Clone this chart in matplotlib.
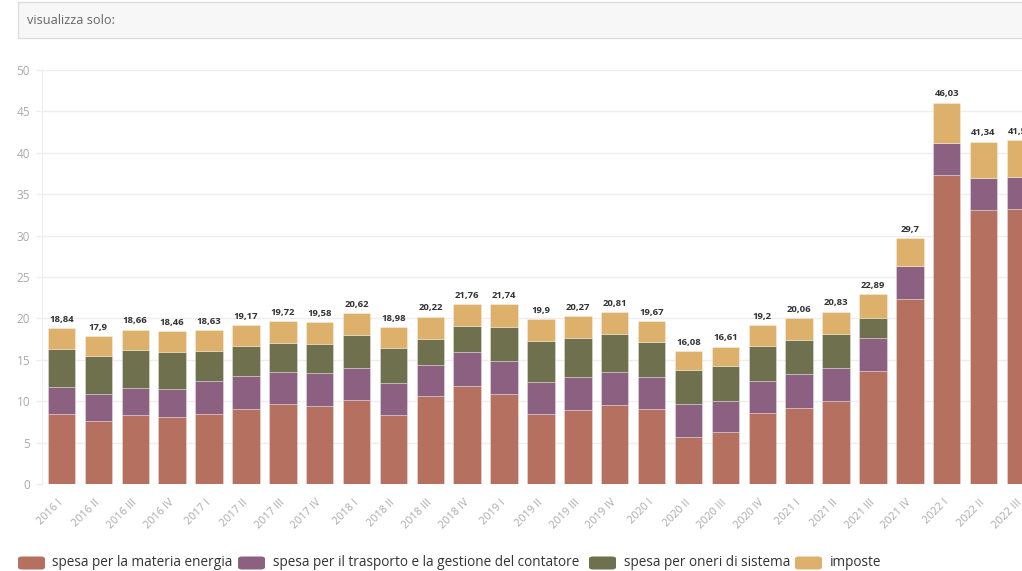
import matplotlib
matplotlib.use("Agg")
import matplotlib.pyplot as plt
from matplotlib.patches import FancyBboxPatch
import numpy as np

plt.rcParams['font.family'] = ['Open Sans', 'DejaVu Sans']

# data (c€/kWh, per trimestre)
trimestri = ['2016 I', '2016 II', '2016 III', '2016 IV', '2017 I', '2017 II', '2017 III', '2017 IV',
             '2018 I', '2018 II', '2018 III', '2018 IV', '2019 I', '2019 II', '2019 III', '2019 IV',
             '2020 I', '2020 II', '2020 III', '2020 IV', '2021 I', '2021 II', '2021 III', '2021 IV',
             '2022 I', '2022 II', '2022 III']
materia = [8.46, 7.62, 8.34, 8.10, 8.42, 9.10, 9.63, 9.39, 10.20, 8.38, 10.60, 11.89, 10.88, 8.46,
           8.98, 9.55, 9.10, 5.76, 6.29, 8.58, 9.26, 9.99, 13.70, 22.30, 37.28, 33.05, 33.17]
trasporto = [3.24, 3.26, 3.26, 3.34, 3.99, 4.00, 3.95, 3.99, 3.80, 3.82, 3.79, 4.03, 3.95, 3.91,
             3.96, 4.03, 3.84, 3.91, 3.81, 3.91, 4.08, 3.99, 3.95, 4.00, 3.82, 3.83, 3.83]
oneri = [4.60, 4.55, 4.60, 4.52, 3.67, 3.59, 3.50, 3.58, 4.00, 4.25, 3.14, 3.14, 4.15, 4.92,
         4.67, 4.56, 4.18, 4.15, 4.20, 4.15, 4.02, 4.16, 2.42, 0, 0, 0, 0]
totale = [18.84, 17.9, 18.66, 18.46, 18.63, 19.17, 19.72, 19.58, 20.62, 18.98, 20.22, 21.76,
          21.74, 19.9, 20.27, 20.81, 19.67, 16.08, 16.61, 19.2, 20.06, 20.83, 22.89, 29.7,
          46.03, 41.34, 41.51]

serie = ['spesa per la materia energia', 'spesa per il trasporto e la gestione del contatore',
         'spesa per oneri di sistema', 'imposte']
colori = ['#b5705f', '#8b6080', '#6f704e', '#ddb16c']

mat = np.array(materia)
tra = np.array(trasporto)
one = np.array(oneri)
imposte = np.array(totale) - mat - tra - one

fig = plt.figure(figsize=(10.22, 5.71), dpi=100)
W, H = 1022, 571
ax = fig.add_axes([42 / W, (H - 484.3) / H, 1.0115, (484.3 - 69.7) / H])

x = np.arange(len(trimestri))
bw = 0.745
bottom = np.zeros(len(x))
for vals, col in zip([mat, tra, one, imposte], colori):
    ax.bar(x, vals, bw, bottom=bottom, color=col, edgecolor=(1, 1, 1, 0.35), linewidth=0.6, zorder=2)
    bottom = bottom + vals

for xi, t in zip(x, totale):
    ax.text(xi, t + 0.5, f"{t:g}".replace('.', ','), ha='center', va='bottom',
            fontsize=6.8, fontweight='bold', color='#333333', zorder=3)

ax.set_xlim(-0.53, 27.5)
ax.set_ylim(0, 50)
ax.set_yticks(range(0, 51, 5))
ax.grid(axis='y', color='#eeeeee', linewidth=1, zorder=0)
for s in ['top', 'right', 'bottom']:
    ax.spines[s].set_visible(False)
ax.spines['left'].set_color('#eeeeee')
ax.tick_params(axis='y', length=4.3, width=1, color='#eeeeee', pad=4.3,
               labelsize=8.5, labelcolor='#aaaaaa')
ax.set_xticks(x)
ax.set_xticklabels(trimestri, rotation=45, ha='right', va='center', rotation_mode='anchor')
ax.tick_params(axis='x', length=0, pad=12, labelsize=7.8, labelcolor='#aaaaaa')

# intestazione "visualizza solo:"
fig.patches.append(FancyBboxPatch((18 / W, 1 - 38 / H), 1.1, 36 / H,
                                  boxstyle='square,pad=0', transform=fig.transFigure,
                                  facecolor='#f7f7f7', edgecolor='#dddddd', linewidth=1))
fig.text(27 / W, 1 - 20 / H, 'visualizza solo:', fontsize=9.2, color='#666666', va='center')

# legenda
patch_x = [18, 238, 589, 795]
text_x = [52, 273, 624, 830]
ly = 563
for px, tx, lab, col in zip(patch_x, text_x, serie, colori):
    fig.patches.append(FancyBboxPatch((px / W, 1 - (ly + 6.5) / H), 27 / W, 13 / H,
                                      boxstyle='round,pad=0,rounding_size=0.004',
                                      transform=fig.transFigure, facecolor=col, edgecolor='none'))
    fig.text(tx / W, 1 - ly / H, lab, fontsize=9.8, color='#333333', va='center')

fig.savefig('out.png', dpi=100)
